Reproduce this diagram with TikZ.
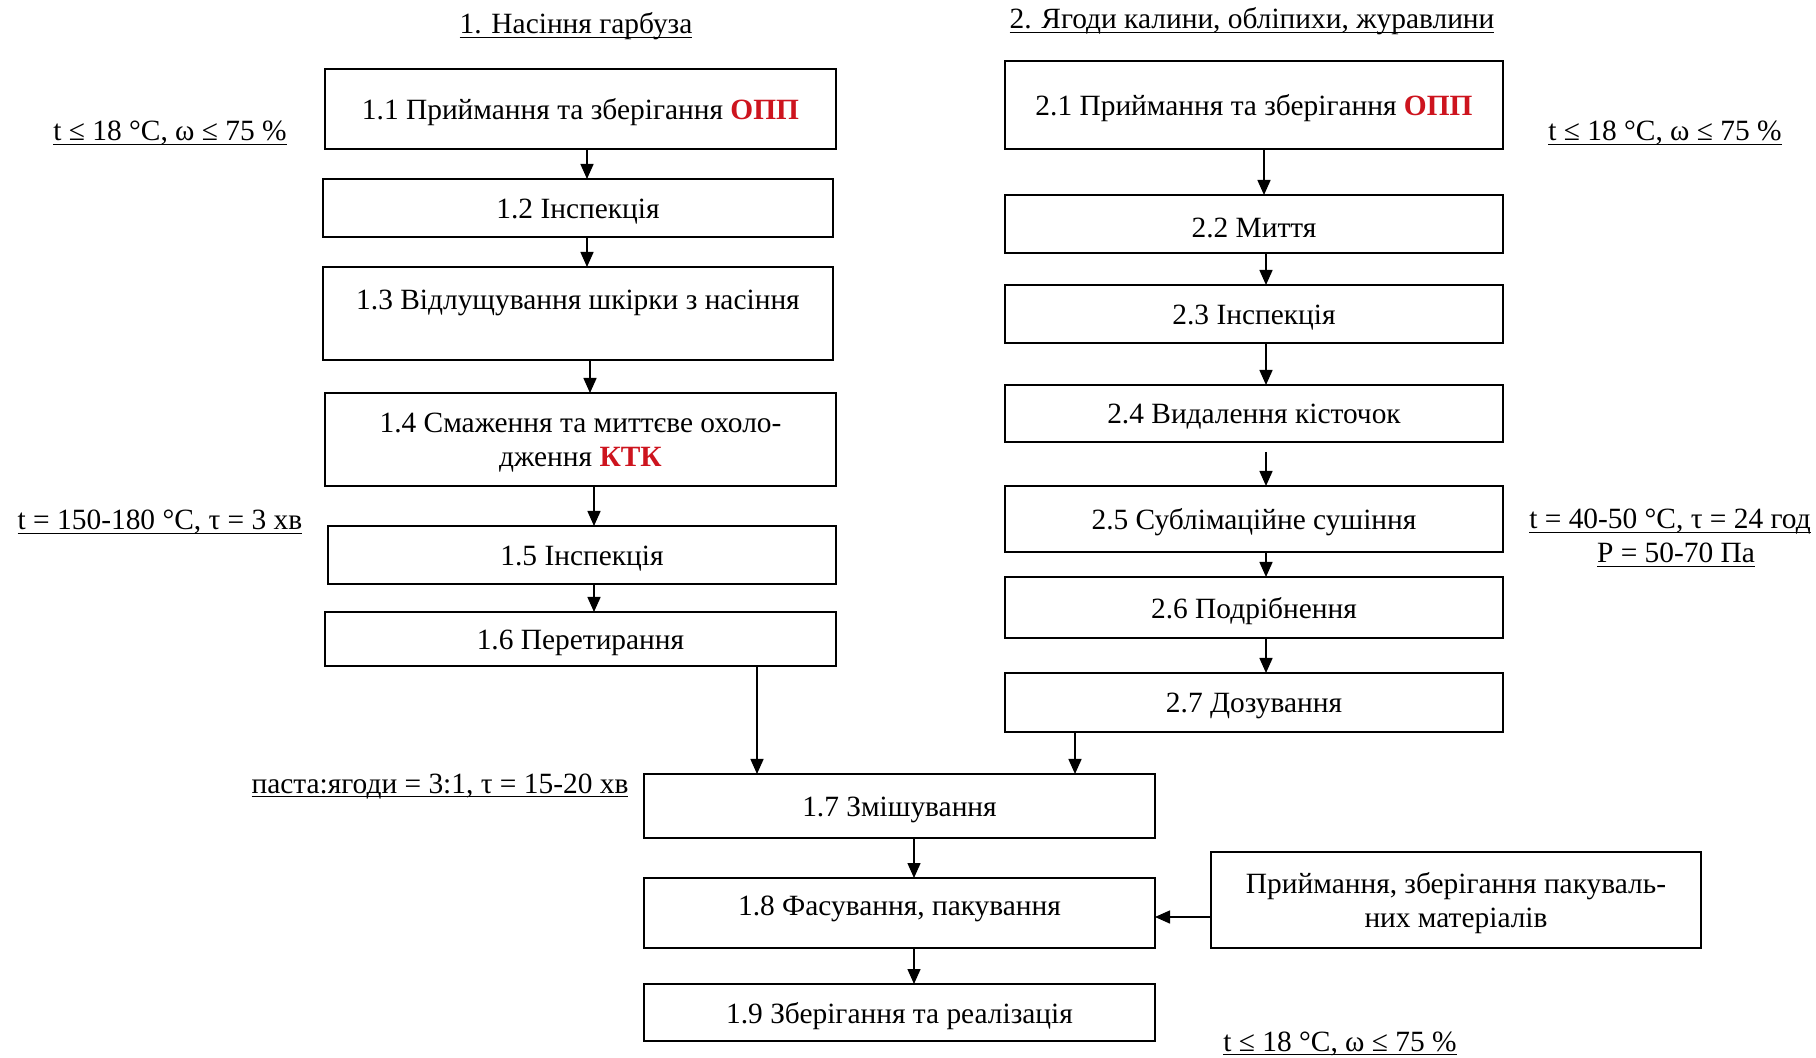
\documentclass[tikz,border=0pt]{standalone}
\usepackage{fontspec}
\setmainfont{Liberation Serif}
\usetikzlibrary{arrows.meta}
\definecolor{kred}{RGB}{205,20,30}
\newcommand\undl[1]{\setbox0\hbox{#1}\rlap{\rule[-2pt]{\wd0}{0.7pt}}\box0}
\newcommand\red[1]{{\color{kred}\textbf{#1}}}
\newcommand\stepbox[6]{\node[box, minimum width={(#4-#2)*0.5pt}, minimum height={(#5-#3)*0.5pt},
  label={[boxtext]center:{#6}}] (#1) at (#2,#3) {};}
\tikzset{
  box/.style={draw, line width=0.85pt, inner sep=0pt, outer sep=0pt, anchor=north west},
  boxtext/.style={inner sep=0pt, outer sep=0pt, yshift=-1.8pt,
    font=\fontsize{14.7}{17}\selectfont, align=center},
  lbl/.style={inner sep=0pt, outer sep=0pt, anchor=base, font=\fontsize{14.7}{17}\selectfont},
  arr/.style={line width=0.75pt, -{Triangle[length=7.5pt,width=6.5pt]}},
}
\begin{document}
\begin{tikzpicture}[x=0.5pt,y=-0.5pt]
\useasboundingbox (0,0) rectangle (1816,1058);

% titles and labels
\node[lbl] (tt1) at (576,34) {\undl{1. Насіння гарбуза}};
\node[lbl] (tt2) at (1252,29) {\undl{2. Ягоди калини, обліпихи, журавлини}};
\node[lbl] (c1) at (170,141) {\undl{t ≤ 18 °C, ω ≤ 75 \%}};
\node[lbl] (c2) at (1665,141) {\undl{t ≤ 18 °C, ω ≤ 75 \%}};
\node[lbl] (c3) at (160,530) {\undl{t = 150-180 °C, τ = 3 хв}};
\node[lbl] (c4a) at (1670,529) {\undl{t = 40-50 °C, τ = 24 год}};
\node[lbl] (c4b) at (1676,563) {\undl{P = 50-70 Па}};
\node[lbl] (c5) at (440,793) {\undl{паста:ягоди = 3:1, τ = 15-20 хв}};
\node[lbl] (c6) at (1340,1051) {\undl{t ≤ 18 °C, ω ≤ 75 \%}};

% left column
\stepbox{n11}{325}{69}{836}{149}{1.1 Приймання та зберігання \red{ОПП}}
\stepbox{n12}{323}{179}{833}{237}{1.2 Інспекція}
\stepbox{n13}{323}{267}{833}{360}{1.3 Відлущування шкірки з насіння\\[-5pt]\strut}
\stepbox{n14}{325}{393}{836}{486}{1.4 Смаження та миттєве охоло-\\дження \red{КТК}}
\stepbox{n15}{328}{526}{836}{584}{1.5 Інспекція}
\stepbox{n16}{325}{612}{836}{666}{1.6 Перетирання}

% right column
\stepbox{n21}{1005}{61}{1503}{149}{2.1 Приймання та зберігання \red{ОПП}}
\stepbox{n22}{1005}{195}{1503}{253}{2.2 Миття}
\stepbox{n23}{1005}{285}{1503}{343}{2.3 Інспекція}
\stepbox{n24}{1005}{385}{1503}{442}{2.4 Видалення кісточок}
\stepbox{n25}{1005}{486}{1503}{552}{2.5 Сублімаційне сушіння}
\stepbox{n26}{1005}{577}{1503}{638}{2.6 Подрібнення}
\stepbox{n27}{1005}{673}{1503}{732}{2.7 Дозування}

% bottom
\stepbox{n17}{644}{774}{1155}{838}{1.7 Змішування}
\stepbox{n18}{644}{878}{1155}{948}{1.8 Фасування, пакування\\[-11pt]\strut}
\stepbox{n19}{644}{984}{1155}{1041}{1.9 Зберігання та реалізація}
\stepbox{npk}{1211}{852}{1701}{948}{Приймання, зберігання пакуваль-\\них матеріалів}

% arrow columns
\coordinate (a1) at (587,0);
\coordinate (a2) at (590,0);
\coordinate (a3) at (594,0);
\coordinate (a4) at (757,0);
\coordinate (a5) at (1075,0);
\coordinate (a6) at (914,0);
\coordinate (b1) at (1264,0);
\coordinate (b2) at (1266,0);
\coordinate (p1) at (0,917);

\draw[arr] (n11.south -| a1) -- (n12.north -| a1);
\draw[arr] (n12.south -| a1) -- (n13.north -| a1);
\draw[arr] (n13.south -| a2) -- (n14.north -| a2);
\draw[arr] (n14.south -| a3) -- (n15.north -| a3);
\draw[arr] (n15.south -| a3) -- (n16.north -| a3);
\draw[arr] (n16.south -| a4) -- (n17.north -| a4);
\draw[arr] (n27.south -| a5) -- (n17.north -| a5);
\draw[arr] (n17.south -| a6) -- (n18.north -| a6);
\draw[arr] (n18.south -| a6) -- (n19.north -| a6);
\draw[arr] (npk.west |- p1) -- (n18.east |- p1);

\draw[arr] (n21.south -| b1) -- (n22.north -| b1);
\draw[arr] (n22.south -| b2) -- (n23.north -| b2);
\draw[arr] (n23.south -| b2) -- (n24.north -| b2);
\draw[arr] ([yshift=-5pt]n24.south -| b2) -- (n25.north -| b2);
\draw[arr] (n25.south -| b2) -- (n26.north -| b2);
\draw[arr] (n26.south -| b2) -- (n27.north -| b2);
\end{tikzpicture}
\end{document}
